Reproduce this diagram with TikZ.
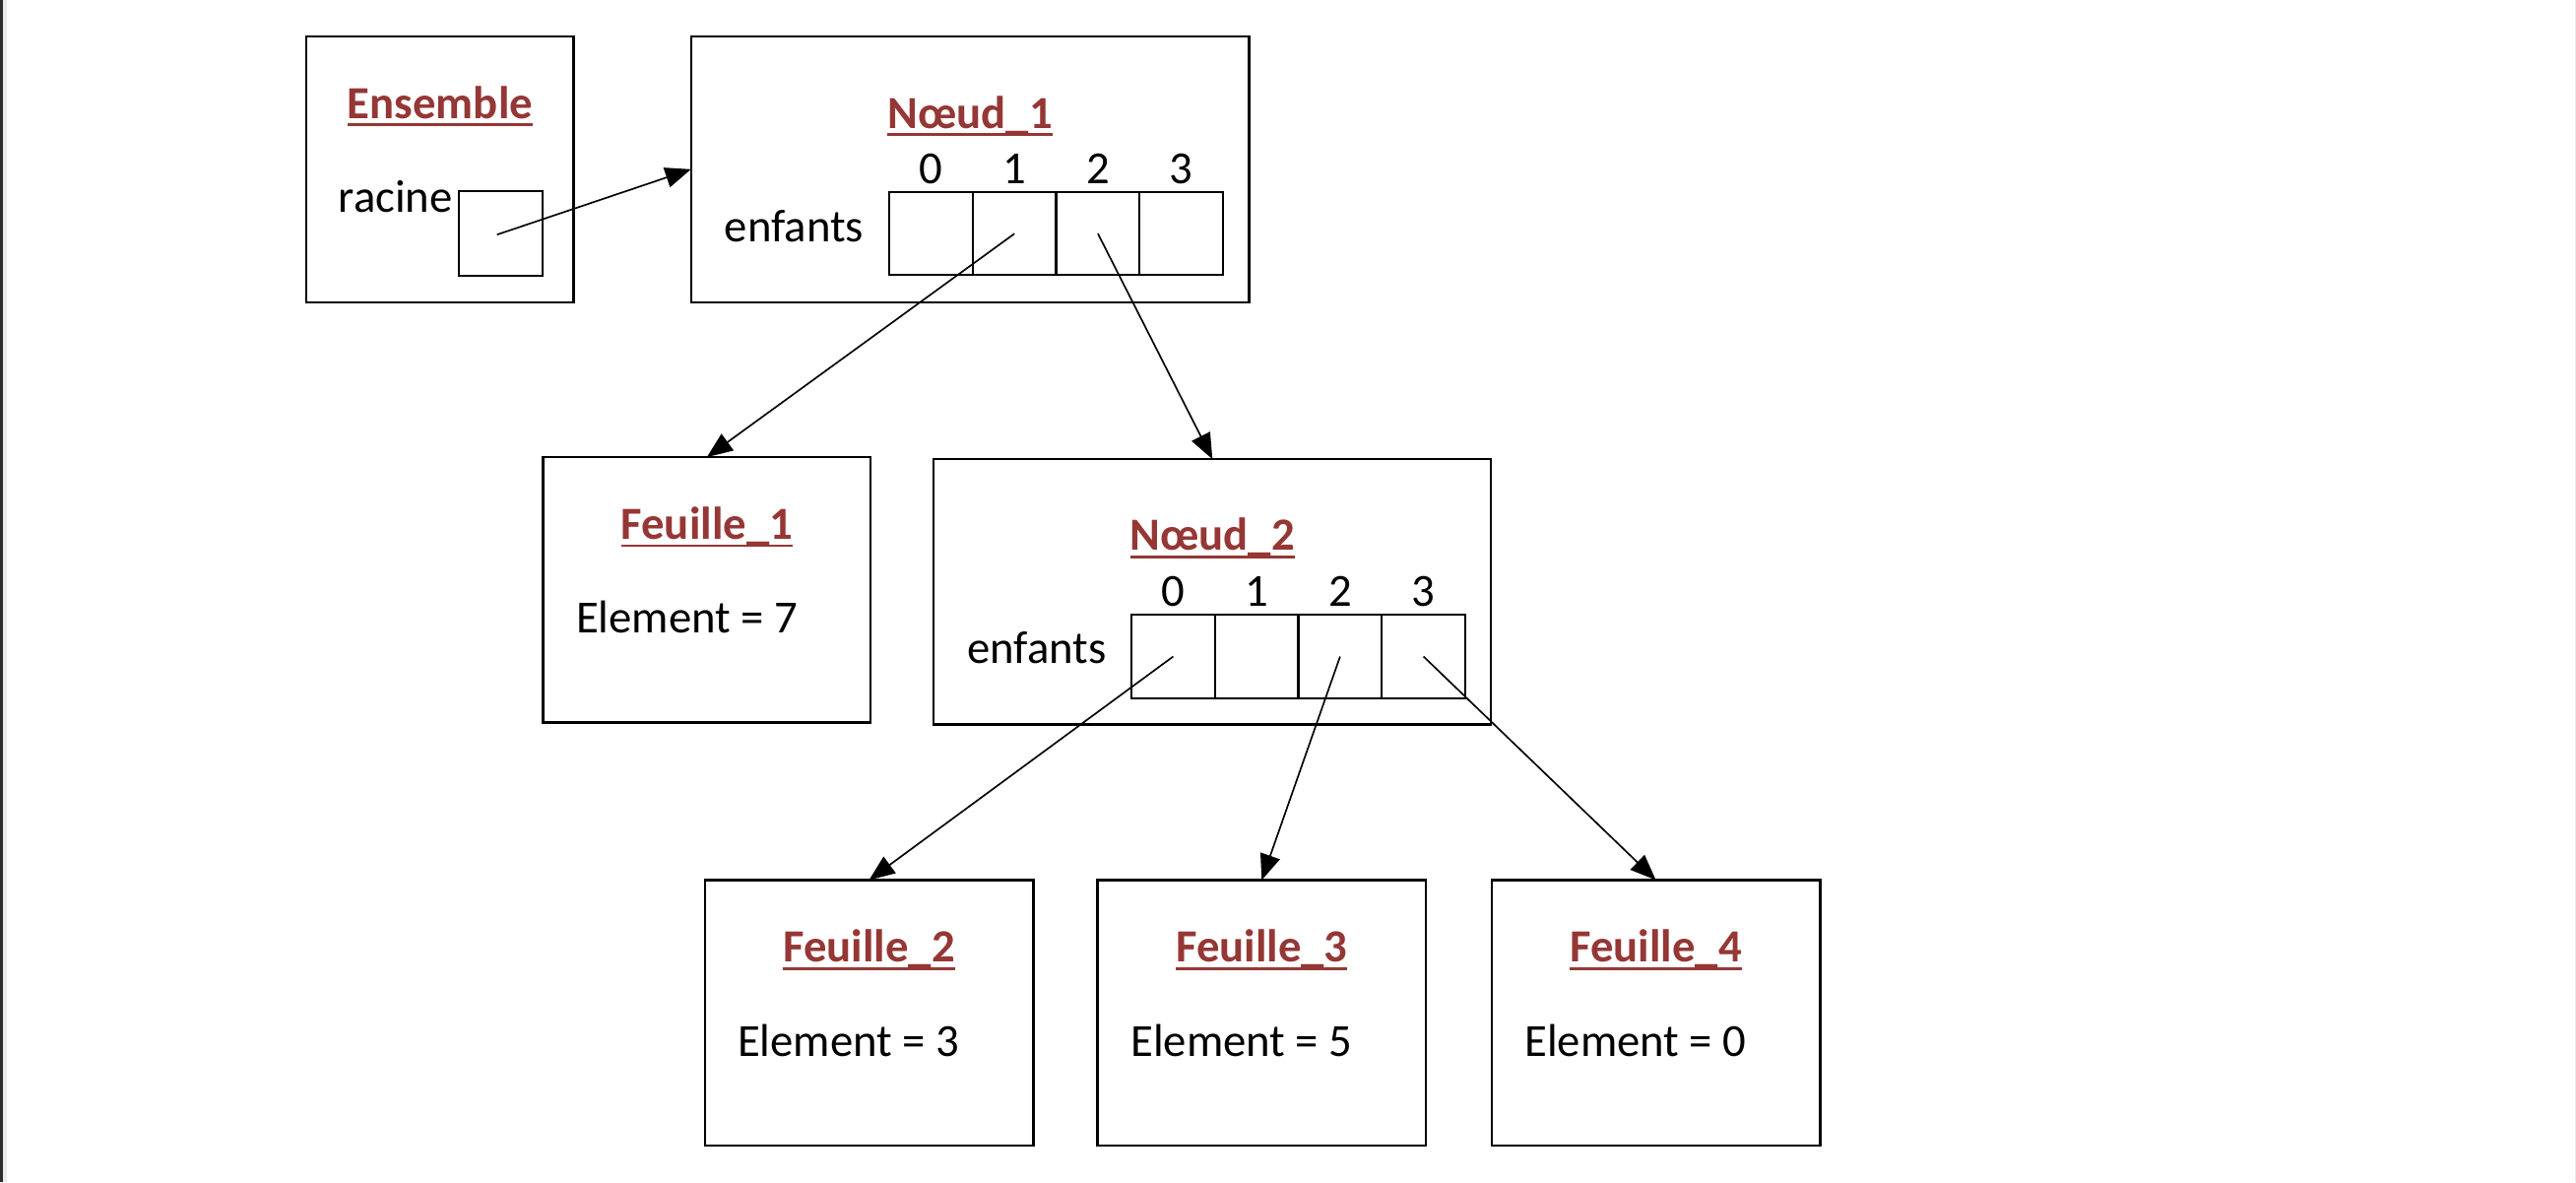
\documentclass[tikz,border=0pt]{standalone}
\usepackage{fontspec}
\setmainfont{Carlito}
\usetikzlibrary{arrows.meta}
\definecolor{ttlred}{RGB}{149,55,53}
\newcommand\mkttl[3]{%
  \node[ttl] (#1) at #2 {#3};
  \draw[ttlred, line width=0.8pt] ([yshift=-2pt]#1.base west) -- ([yshift=-2pt]#1.base east);}
\begin{document}
\begin{tikzpicture}[x=0.5pt,y=-0.5pt,
  font=\fontsize{14pt}{17pt}\selectfont,
  box/.style={draw, line width=0.7pt, inner sep=0pt, outer sep=0pt},
  cell/.style={draw, line width=0.7pt, inner sep=0pt, outer sep=0pt, minimum width=25.4pt, minimum height=25.3pt},
  txt/.style={inner sep=0pt, outer sep=0pt, anchor=base west},
  dig/.style={inner sep=0pt, outer sep=0pt, anchor=base},
  ttl/.style={inner sep=0pt, outer sep=0pt, anchor=base, text=ttlred, font=\fontsize{14pt}{17pt}\selectfont\bfseries},
  link/.style={line width=0.5pt, -{Triangle[length=7.8pt,width=6.2pt]}}]
\useasboundingbox (0,0) rectangle (1568,719.27);
% window edges
\fill[black!82] (0,0) rectangle (1.8,719.27);
\fill[black!8] (1.8,0) rectangle (4.2,719.27);
\fill[black!8] (1567.3,0) rectangle (1568,719.27);

% Ensemble
\node[box, minimum width=81.3pt, minimum height=80.95pt] (ens) at (267.9,103) {};
\mkttl{tens}{(267.9,72)}{Ensemble}
\node[txt] (racine) at (206,129) {racine};
\node[box, minimum width=25.5pt, minimum height=25.8pt] (rb) at (304.9,142.1) {};
\coordinate (rbp) at (302.5,142.8);

% Noeud_1
\node[box, minimum width=169.85pt, minimum height=81pt] (n1) at (590.45,103) {};
\mkttl{tn1}{(590.45,78)}{Nœud\_1}
\node[txt] (enf1) at (441,147) {enfants};
\foreach \i/\x in {0/566.8,1/617.5,2/668.3,3/719.0}{
  \node[cell, minimum width=25.375pt, minimum height=25.15pt] (n1c\i) at (\x,142.2) {};
  \node[dig] (n1d\i) at (\x,112) {\i};
}

% Feuille_1
\node[box, minimum width=99.75pt, minimum height=80.7pt] (f1) at (430.25,358.9) {};
\mkttl{tf1}{(430.25,328)}{Feuille\_1}
\node[txt] (e1) at (350.7,385) {Element = 7};

% Noeud_2
\node[box, minimum width=169.6pt, minimum height=80.7pt] (n2) at (738,360.1) {};
\mkttl{tn2}{(738,335)}{Nœud\_2}
\node[txt] (enf2) at (588.7,403.6) {enfants};
\foreach \i/\x in {0/714.1,1/764.9,2/815.7,3/866.5}{
  \node[cell] (n2c\i) at (\x,399.5) {};
  \node[dig] (n2d\i) at (\x,369) {\i};
}

% Feuilles 2-4
\foreach \k/\x/\ex/\v in {2/529/449/3,3/768/688.3/5,4/1007.9/928/0}{
  \node[box, minimum width=100pt, minimum height=80.75pt] (f\k) at (\x,616.25) {};
  \mkttl{tf\k}{(\x,585.5)}{Feuille\_\k}
  \node[txt] (e\k) at (\ex,642.8) {Element = \v};
}

% links
\draw[link] (rbp) -- (n1.west);
\draw[link] (n1c1.center) -- (f1.north);
\draw[link] (n1c2.center) -- (n2.north);
\draw[link] (n2c0.center) -- (f2.north);
\draw[link] (n2c2.center) -- (f3.north);
\draw[link] (n2c3.center) -- (f4.north);
\end{tikzpicture}
\end{document}
